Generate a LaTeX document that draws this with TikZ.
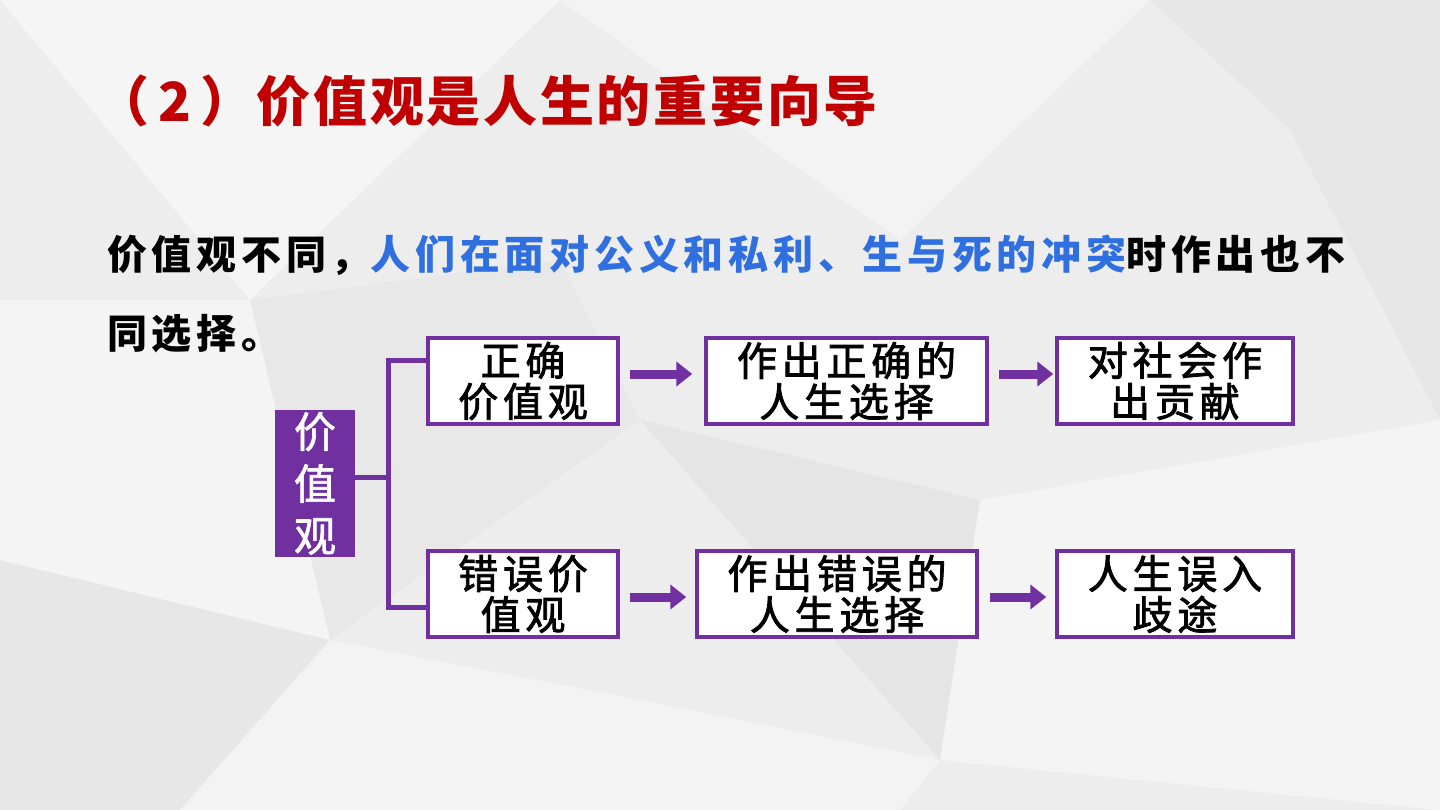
\documentclass[tikz,border=0pt]{standalone}
\usepackage{fontspec}
\setmainfont{Noto Sans CJK SC}
\usetikzlibrary{arrows.meta}
\definecolor{purp}{HTML}{7030A0}
\definecolor{tred}{HTML}{C00000}
\definecolor{tblue}{HTML}{2F6FE0}
\definecolor{bg}{HTML}{EDEDED}
\tikzset{
  box/.style={draw=purp, line width=3.5pt, fill=white, inner sep=0pt, align=center,
    minimum height=86pt, font=\fontsize{40}{41}\selectfont\addfontfeature{LetterSpace=12,FakeBold=2}},
  brk/.style={draw=purp, line width=5pt},
  arr/.style={draw=purp, line width=9pt, -{Triangle[length=16pt,width=24pt]}}
}
\begin{document}
\begin{tikzpicture}[x=1pt,y=-1pt]
\useasboundingbox (0,0) rectangle (1440,810);
% background
\fill[bg] (0,0) rectangle (1440,810);
\fill[white,opacity=0.45] (0,0) -- (560,0) -- (250,300) -- cycle;
\fill[white,opacity=0.35] (560,0) -- (1150,0) -- (900,240) -- cycle;
\fill[black,opacity=0.025] (1150,0) -- (1440,0) -- (1440,420) -- (1290,130) -- cycle;
\fill[white,opacity=0.4] (0,300) -- (250,300) -- (330,640) -- (0,560) -- cycle;
\fill[black,opacity=0.03] (640,420) -- (980,500) -- (940,760) -- cycle;
\fill[white,opacity=0.4] (980,500) -- (1440,420) -- (1440,810) -- (940,760) -- cycle;
\fill[black,opacity=0.025] (0,560) -- (330,640) -- (180,810) -- (0,810) -- cycle;
\fill[white,opacity=0.35] (330,640) -- (640,700) -- (940,760) -- (900,810) -- (180,810) -- cycle;
\fill[black,opacity=0.02] (250,300) -- (560,260) -- (640,420) -- (330,640) -- cycle;

% title
\node[anchor=base west, text=tred, inner sep=0pt,
  font=\fontsize{54}{54}\selectfont\bfseries\addfontfeature{LetterSpace=5}] (title) at (95,122)
  {（\,2\,）价值观是人生的重要向导};

% body text
\node[anchor=base west, inner sep=0pt, align=left,
  font=\fontsize{40}{78}\selectfont\bfseries\addfontfeature{LetterSpace=11.8}] (body) at (107,348)
  {价值观不同，\textcolor{tblue}{人们在面对公义和私利、生与死的冲突}时作出也不\\同选择。};

% left node
\node[fill=purp, text=white, minimum width=80pt, minimum height=147pt, inner sep=0pt,
  align=center, font=\fontsize{42}{52}\selectfont\addfontfeature{FakeBold=1.5}] (v) at (315,483.5) {价\\值\\观};

% boxes
\node[box, minimum width=190pt] (b1) at (523,381) {正确\\价值观};
\node[box, minimum width=281pt] (b2) at (846.5,381) {作出正确的\\人生选择};
\node[box, minimum width=236pt] (b3) at (1175,381) {对社会作\\出贡献};
\node[box, minimum width=190pt] (b4) at (523,594) {错误价\\值观};
\node[box, minimum width=280pt] (b5) at (837,594) {作出错误的\\人生选择};
\node[box, minimum width=236pt] (b6) at (1175,594) {人生误入\\歧途};

% bracket
\coordinate (jt) at (388,360);
\coordinate (jb) at (388,607);
\draw[brk] (v.east |- 0,477) -- (jt |- 0,477);
\draw[brk] (b1.west |- jt) -- (jt) -- (jb) -- (b4.west |- jb);

% arrows
\draw[arr] ([xshift=10pt,yshift=7pt]b1.east) -- ([xshift=-12pt,yshift=7pt]b2.west);
\draw[arr] ([xshift=10pt,yshift=7pt]b2.east) -- ([xshift=-2pt,yshift=7pt]b3.west);
\draw[arr] ([xshift=10pt,yshift=-3pt]b4.east) -- ([xshift=-9pt,yshift=-3pt]b5.west);
\draw[arr] ([xshift=11pt,yshift=-3pt]b5.east) -- ([xshift=-9pt,yshift=-3pt]b6.west);
\end{tikzpicture}
\end{document}
